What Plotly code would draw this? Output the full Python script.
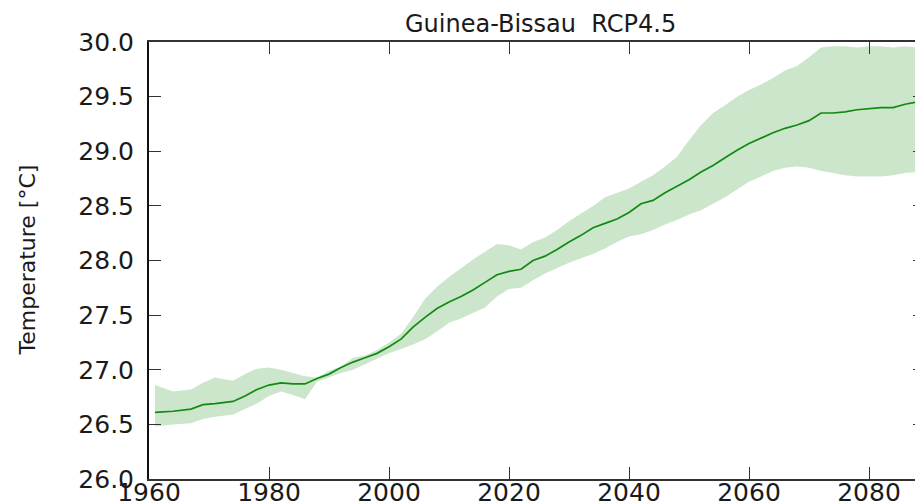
import plotly.graph_objects as go

years = [1961, 1964, 1967, 1969, 1971, 1974, 1976, 1978, 1980, 1982, 1984, 1986, 1988,
         1990, 1992, 1994, 1996, 1998, 2000, 2002, 2004, 2006, 2008, 2010, 2012, 2014,
         2016, 2018, 2020, 2022, 2024, 2026, 2028, 2030, 2032, 2034, 2036, 2038, 2040,
         2042, 2044, 2046, 2048, 2050, 2052, 2054, 2056, 2058, 2060, 2062, 2064, 2066,
         2068, 2070, 2072, 2074, 2076, 2078, 2080, 2082, 2084, 2086, 2088, 2090]

mean_temp = [26.61, 26.62, 26.64, 26.68, 26.69, 26.71, 26.76, 26.82, 26.86, 26.88, 26.87,
             26.87, 26.92, 26.96, 27.02, 27.07, 27.11, 27.15, 27.21, 27.28, 27.39, 27.48,
             27.56, 27.62, 27.67, 27.73, 27.80, 27.87, 27.90, 27.92, 28.00, 28.04, 28.10,
             28.17, 28.23, 28.30, 28.34, 28.38, 28.44, 28.52, 28.55, 28.62, 28.68, 28.74,
             28.81, 28.87, 28.94, 29.01, 29.07, 29.12, 29.17, 29.21, 29.24, 29.28, 29.35,
             29.35, 29.36, 29.38, 29.39, 29.40, 29.40, 29.43, 29.45, 29.47]

upper_temp = [26.86, 26.80, 26.82, 26.88, 26.93, 26.90, 26.96, 27.01, 27.02, 27.00, 26.97,
              26.94, 26.93, 26.99, 27.03, 27.11, 27.13, 27.18, 27.25, 27.33, 27.48, 27.65,
              27.76, 27.85, 27.93, 28.01, 28.08, 28.15, 28.14, 28.10, 28.17, 28.21, 28.28,
              28.36, 28.43, 28.50, 28.58, 28.62, 28.66, 28.72, 28.78, 28.86, 28.95, 29.10,
              29.24, 29.35, 29.42, 29.50, 29.56, 29.61, 29.67, 29.74, 29.78, 29.86, 29.95,
              29.96, 29.96, 29.95, 29.96, 29.96, 29.95, 29.96, 29.95, 29.95]

lower_temp = [26.48, 26.50, 26.51, 26.55, 26.57, 26.59, 26.64, 26.69, 26.76, 26.80, 26.77,
              26.73, 26.89, 26.93, 26.97, 27.00, 27.05, 27.10, 27.15, 27.19, 27.23, 27.28,
              27.35, 27.43, 27.47, 27.52, 27.57, 27.67, 27.74, 27.75, 27.82, 27.88, 27.93,
              27.98, 28.02, 28.06, 28.11, 28.17, 28.22, 28.24, 28.28, 28.33, 28.37, 28.42,
              28.46, 28.52, 28.58, 28.65, 28.72, 28.77, 28.82, 28.85, 28.86, 28.85, 28.82,
              28.80, 28.78, 28.77, 28.77, 28.77, 28.78, 28.80, 28.81, 28.82]

x_ticks = [1960, 1980, 2000, 2020, 2040, 2060, 2080]
y_ticks = [26.0, 26.5, 27.0, 27.5, 28.0, 28.5, 29.0, 29.5, 30.0]

title_text = "Guinea-Bissau  RCP4.5"
ylabel_text = "Temperature [°C]"

fig = go.Figure()
fig.add_trace(go.Scatter(x=years, y=lower_temp, mode="lines", line=dict(width=0),
                         showlegend=False, hoverinfo="skip"))
fig.add_trace(go.Scatter(x=years, y=upper_temp, mode="lines", line=dict(width=0),
                         fill="tonexty", fillcolor="rgba(0,128,0,0.2)",
                         showlegend=False, hoverinfo="skip"))
fig.add_trace(go.Scatter(x=years, y=mean_temp, mode="lines",
                         line=dict(color="#118a11", width=1.7), showlegend=False))

font_family = "DejaVu Sans, Liberation Sans, sans-serif"

# The chart's frame runs just past the right edge of the 915px window, as in the reference.
fig.update_layout(
    width=925, height=504,
    margin=dict(l=149, r=0, t=42, b=25, autoexpand=False),
    paper_bgcolor="white", plot_bgcolor="white",
    font=dict(family=font_family, color="#1a1a1a"),
    showlegend=False,
)

fig.update_xaxes(
    range=[1960, 2089.33], tickvals=x_ticks, ticktext=[str(v) for v in x_ticks],
    showgrid=False, zeroline=False, automargin=False,
    showline=True, linecolor="#333333", linewidth=2, mirror="ticks",
    ticks="inside", ticklen=12, tickwidth=1, tickcolor="#333333",
    tickfont=dict(size=25, family=font_family, color="#1a1a1a"),
    ticklabelstandoff=-10,
)
fig.update_yaxes(
    range=[26.0, 30.0], tickvals=y_ticks, ticktext=[f"{v:.1f}" for v in y_ticks],
    showgrid=False, zeroline=False, automargin=False,
    showline=True, linecolor="#111111", linewidth=2, mirror="ticks",
    ticks="inside", ticklen=12, tickwidth=1, tickcolor="#333333",
    tickfont=dict(size=25, family=font_family, color="#1a1a1a"),
    ticklabelstandoff=8,
)

fig.add_annotation(text=title_text, xref="paper", yref="paper",
                   x=0.505, y=1, xanchor="center", yanchor="bottom",
                   yshift=2, showarrow=False,
                   font=dict(size=24, family=font_family, color="#1a1a1a"))
fig.add_annotation(text=ylabel_text, xref="paper", yref="paper",
                   x=0, y=0.5, xanchor="center", yanchor="middle", xshift=-122,
                   textangle=-90, showarrow=False,
                   font=dict(size=22, family=font_family, color="#1a1a1a"))

fig.write_html(
    "out.html",
    config={"displayModeBar": False},
    post_script="document.body.style.margin='0px';"
                "document.body.style.overflow='hidden';"
                "document.documentElement.style.overflow='hidden';",
)
